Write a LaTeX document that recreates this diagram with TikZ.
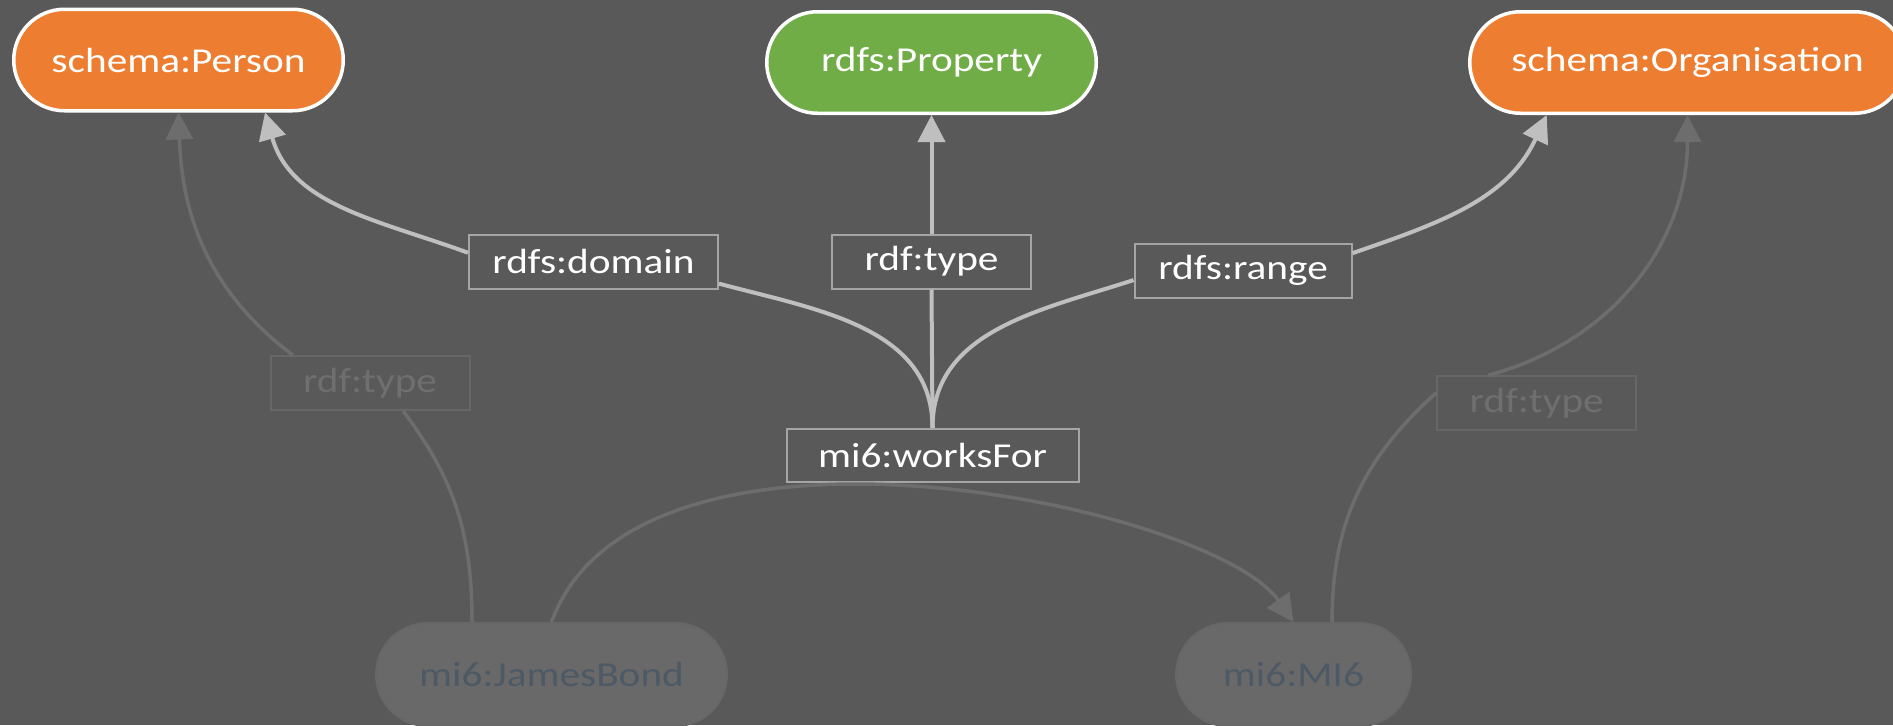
\documentclass[tikz,border=0pt]{standalone}
\usepackage{fontspec}
\newfontfamily\carlito[FakeStretch=1.18]{Carlito}
\usetikzlibrary{arrows.meta,shapes.misc}

\definecolor{bgcol}{HTML}{595959}
\definecolor{orangefill}{HTML}{ED7D31}
\definecolor{greenfill}{HTML}{70AD47}
\definecolor{linkgrey}{HTML}{BFBFBF}
\definecolor{lblborder}{HTML}{A5A5A5}
\definecolor{dimgrey}{HTML}{6D6D6D}
\definecolor{dimborder}{HTML}{676767}
\definecolor{dimtext}{HTML}{6F6F6F}
\definecolor{dimfill}{HTML}{696969}
\definecolor{dimnodetext}{HTML}{4E5966}

\tikzset{
  pill/.style={rounded rectangle, draw=white, line width=1.75pt, inner sep=0pt,
    minimum height=50.75pt, text=white, font=\carlito\fontsize{17.5pt}{21pt}\selectfont},
  lbl/.style={rectangle, draw=lblborder, line width=1pt, fill=bgcol, inner sep=0pt,
    minimum height=27pt, text=white, font=\carlito\fontsize{17.5pt}{21pt}\selectfont},
  dimlbl/.style={lbl, draw=dimborder, text=dimtext, minimum width=99.5pt},
  dimpill/.style={rounded rectangle, fill=dimfill, draw=dimborder, line width=1pt, inner sep=0pt,
    minimum height=51.5pt, text=dimnodetext, font=\carlito\fontsize{17.5pt}{21pt}\selectfont},
  line/.style={draw=linkgrey, line width=2pt},
  arrow/.style={line, -{Triangle[width=13.5pt,length=13.5pt]}},
  dimline/.style={draw=dimgrey, line width=1.75pt},
  dimarrow/.style={dimline, -{Triangle[width=13.5pt,length=13.5pt]}}
}

\begin{document}
\begin{tikzpicture}[x=0.5pt,y=0.5pt]
  \useasboundingbox (0,0) rectangle (1893,-725);
  \clip (0,0) rectangle (1893,-725);
  \fill[bgcol] (0,0) rectangle (1893,-725);

  \node[pill, fill=orangefill, minimum width=164.75pt] (person) at (178.5,-60) {schema:Person};
  \node[pill, fill=greenfill, minimum width=164.75pt] (property) at (931.5,-62.5) {rdfs:Property};
  \node[pill, fill=orangefill, minimum width=217.75pt] (org) at (1687.5,-62.5) {schema:Organisation};

  \node[lbl, minimum width=124.5pt] (domain) at (593.5,-261.5) {rdfs:domain};
  \node[lbl, minimum width=99.5pt] (ptype) at (931.5,-261.5) {rdf:type};
  \node[lbl, minimum width=108.5pt] (range) at (1243,-270.5) {rdfs:range};
  \node[lbl, minimum width=146pt, minimum height=26.5pt] (works) at (932.5,-455.3) {mi6:worksFor};

  \node[dimlbl] (ltype) at (370,-383.3) {rdf:type};
  \node[dimlbl] (rtype) at (1536.7,-403.3) {rdf:type};

  \node[dimpill, minimum width=175.5pt] (bond) at (551.5,-674.5) {mi6:JamesBond};
  \node[dimpill, minimum width=117.5pt] (mi6) at (1293.5,-674.5) {mi6:MI6};

  % schema links
  \draw[line] (works.north) to[out=90,in=-15] (domain.-10);
  \draw[arrow] (domain.176) to[out=160,in=-74] ([xshift=43.25pt]person.south);
  \draw[line] (works.north) -- (ptype.south);
  \draw[arrow] (ptype.north) -- (property.south);
  \draw[line] (works.north) to[out=90,in=-162] (range.185);
  \draw[arrow] (range.9) to[out=19,in=-115] ([xshift=-70.4pt]org.south);

  % instance links
  \draw[dimline] ([xshift=-39.75pt]bond.north) to[out=90,in=-53] (ltype.-40);
  \draw[dimarrow] (ltype.160) to[out=143,in=-88] (person.south);
  \draw[dimline] ([xshift=19.25pt]mi6.north) to[out=90,in=-138] (rtype.174);
  \draw[dimarrow] (rtype.150) to[out=15,in=-90] (org.south);
  \draw[dimarrow] (bond.north) .. controls +(70:252) and +(125:143) .. (mi6.north);
\end{tikzpicture}
\end{document}
